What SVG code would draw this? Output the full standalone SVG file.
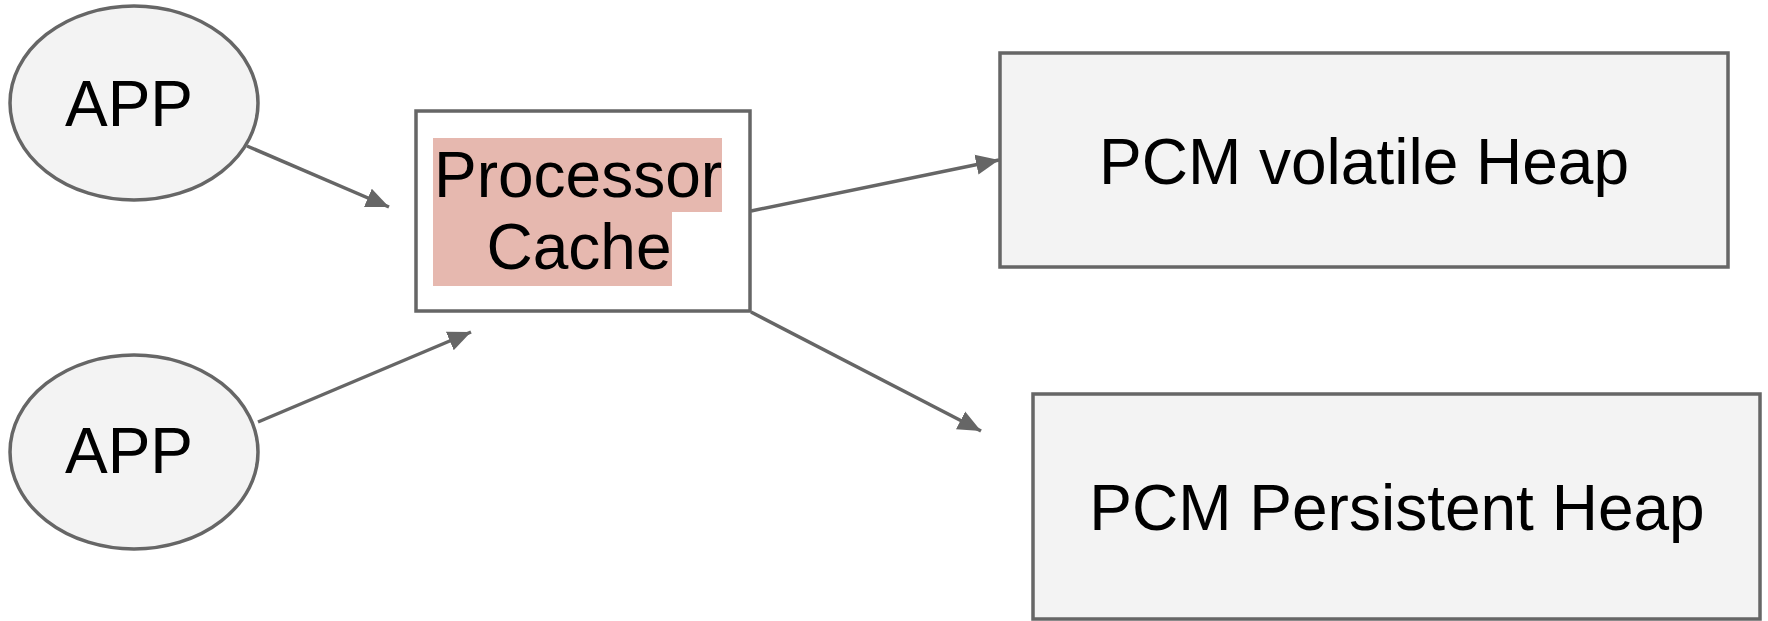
<svg xmlns="http://www.w3.org/2000/svg" width="1768" height="621" viewBox="0 0 1768 621">
  <style>
    .shape { fill: #f3f3f3; stroke: #666666; stroke-width: 3.5; }
    .box { fill: #ffffff; stroke: #666666; stroke-width: 3.5; }
    .mark { fill: #e6b8af; }
    .label { font-family: "Liberation Sans", Arial, sans-serif; font-size: 64px; fill: #000000; text-anchor: middle; }
    .edge { fill: none; stroke: #666666; stroke-width: 3.5; marker-end: url(#head); }
  </style>
  <defs>
    <marker id="head" markerUnits="userSpaceOnUse" markerWidth="26" markerHeight="22" refX="23" refY="10" orient="auto" viewBox="0 0 26 20">
      <path d="M0,0 L23,10 L0,20 Z" fill="#666666"/>
    </marker>
  </defs>

  <rect width="1768" height="621" fill="#ffffff"/>

  <g id="connectors">
    <line class="edge" x1="247" y1="146" x2="389" y2="207"/>
    <line class="edge" x1="258" y1="422" x2="471" y2="332"/>
    <line class="edge" x1="751" y1="211" x2="999" y2="160"/>
    <line class="edge" x1="751" y1="312" x2="981" y2="431"/>
  </g>

  <g id="app-top">
    <ellipse class="shape" cx="134" cy="103" rx="124" ry="97"/>
    <text class="label" x="129" y="126" font-size="63">APP</text>
  </g>

  <g id="app-bottom">
    <ellipse class="shape" cx="134" cy="452" rx="124" ry="97"/>
    <text class="label" x="129" y="473" font-size="63">APP</text>
  </g>

  <g id="processor-cache">
    <rect class="box" x="416" y="111" width="334" height="200"/>
    <rect class="mark" x="433" y="138" width="289" height="74"/>
    <rect class="mark" x="433" y="212" width="239" height="74"/>
    <text class="label" x="578" y="197" font-size="63">Processor</text>
    <text class="label" x="579" y="269" font-size="63">Cache</text>
  </g>

  <g id="volatile-heap">
    <rect class="shape" x="1000" y="53" width="728" height="214"/>
    <text class="label" x="1364" y="184">PCM volatile Heap</text>
  </g>

  <g id="persistent-heap">
    <rect class="shape" x="1033" y="394" width="727" height="225"/>
    <text class="label" x="1397" y="530">PCM Persistent Heap</text>
  </g>
</svg>
